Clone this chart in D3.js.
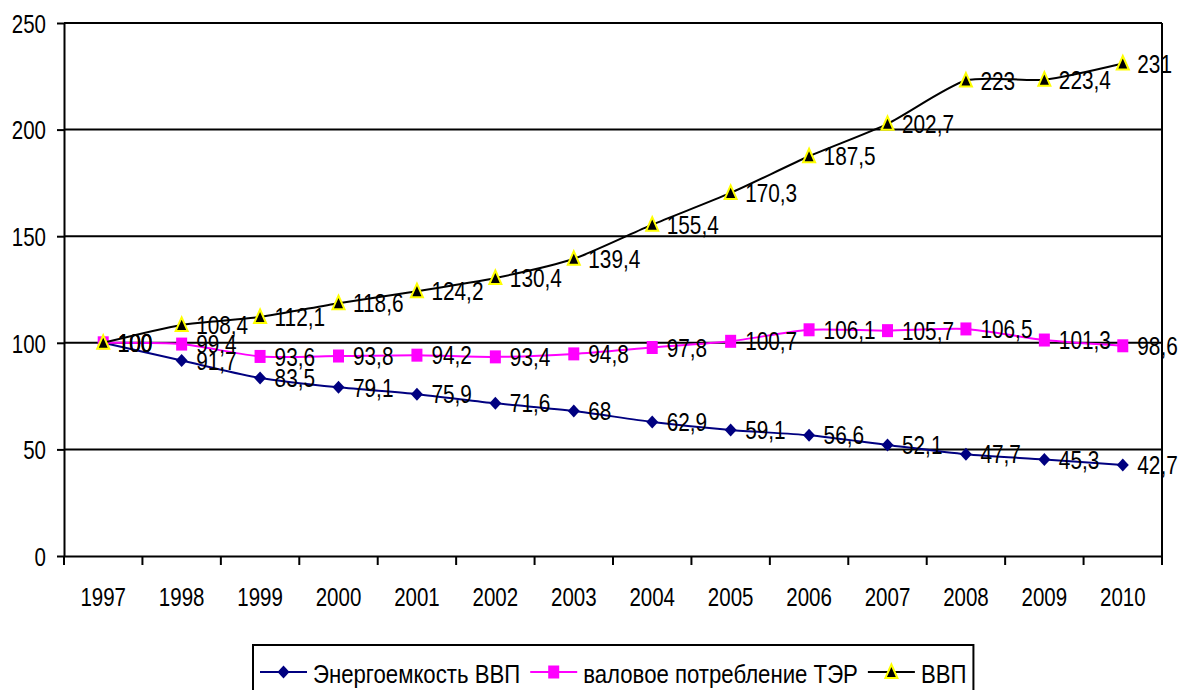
<!DOCTYPE html>
<html>
<head>
<meta charset="utf-8">
<script src="https://cdn.jsdelivr.net/npm/d3@7"></script>
<style>
  html, body { margin: 0; padding: 0; background: #fff; }
  svg { display: block; }
  text { font-family: "Liberation Sans", Arial, sans-serif; fill: #000; }
</style>
</head>
<body>
<svg id="chart" width="1178" height="690"></svg>
<script>
// Years on the category axis
const years = ["1997","1998","1999","2000","2001","2002","2003","2004","2005","2006","2007","2008","2009","2010"];
// Index values, 1997 = 100
const energyIntensity = [100, 91.7, 83.5, 79.1, 75.9, 71.6, 68, 62.9, 59.1, 56.6, 52.1, 47.7, 45.3, 42.7];
const grossConsumption = [100, 99.4, 93.6, 93.8, 94.2, 93.4, 94.8, 97.8, 100.7, 106.1, 105.7, 106.5, 101.3, 98.6];
const gdp = [100, 108.4, 112.1, 118.6, 124.2, 130.4, 139.4, 155.4, 170.3, 187.5, 202.7, 223, 223.4, 231];
const yTicks = [0, 50, 100, 150, 200, 250];
const seriesNames = ["Энергоемкость ВВП", "валовое потребление ТЭР", "ВВП"];

const svg = d3.select("#chart");
const plotLeft = 64, plotRight = 1162, plotTop = 23, plotBottom = 556;
const FS = 20.5;      // axis font size
const SY = 1.25;      // vertical stretch of axis and label lettering

const x = d3.scaleBand().domain(years).range([plotLeft, plotRight]).paddingInner(0).paddingOuter(0);
const y = d3.scaleLinear().domain([0, 250]).range([plotBottom, plotTop]);
const cx = yr => x(yr) + x.bandwidth() / 2;

// Horizontal gridlines
svg.append("g").selectAll("line")
  .data(yTicks.filter(t => t > 0))
  .join("line")
  .attr("x1", plotLeft).attr("x2", plotRight)
  .attr("y1", d => y(d)).attr("y2", d => y(d))
  .attr("stroke", "#000").attr("stroke-width", 2);

// Right border of the plot area
svg.append("line")
  .attr("x1", plotRight).attr("x2", plotRight).attr("y1", plotTop).attr("y2", plotBottom)
  .attr("stroke", "#000").attr("stroke-width", 2);

// Value axis
const yAxis = svg.append("g")
  .attr("transform", `translate(${plotLeft},0)`)
  .call(d3.axisLeft(y).tickValues(yTicks).tickSize(7).tickSizeOuter(0).tickPadding(0));
yAxis.attr("font-family", null).attr("font-size", null);
yAxis.select(".domain").attr("stroke", "#000").attr("stroke-width", 2);
yAxis.selectAll(".tick line").attr("stroke", "#000").attr("stroke-width", 2);
yAxis.selectAll(".tick text")
  .attr("x", null).attr("dy", "0.36em")
  .attr("transform", `translate(-18,0) scale(1,${SY})`)
  .attr("text-anchor", "end")
  .style("font-size", FS + "px");

// Category axis
const xAxis = svg.append("g")
  .attr("transform", `translate(0,${plotBottom})`)
  .call(d3.axisBottom(x).tickSize(0).tickSizeOuter(0));
xAxis.attr("font-family", null).attr("font-size", null);
xAxis.select(".domain").attr("stroke", "#000").attr("stroke-width", 2);
xAxis.selectAll(".tick text")
  .attr("y", null).attr("dy", "0.36em")
  .attr("transform", `translate(0,41) scale(1,${SY})`)
  .style("font-size", FS + "px");
// Tick marks on category boundaries
xAxis.append("g").selectAll("line")
  .data(years.map(d => x(d)).concat([x.range()[1]]))
  .join("line")
  .attr("x1", d => d).attr("x2", d => d)
  .attr("y1", 0).attr("y2", 9)
  .attr("stroke", "#000").attr("stroke-width", 2);

// Marker shapes
function diamond(g, color) {
  g.append("path").attr("d", "M0,-6.5L6,0L0,6.5L-6,0Z").attr("fill", color);
}
function square(g, color) {
  g.append("rect").attr("x", -5.5).attr("y", -6.5).attr("width", 11).attr("height", 13).attr("fill", color);
}
function triangle(g) {
  g.append("path").attr("d", "M0,-7.5L6,6L-6,6Z")
    .attr("fill", "#000").attr("stroke", "#ffff00").attr("stroke-width", 2).attr("stroke-linejoin", "miter");
}

const series = [
  { name: seriesNames[0], values: energyIntensity, color: "#000080", marker: g => diamond(g, "#000080") },
  { name: seriesNames[1], values: grossConsumption, color: "#ff00ff", marker: g => square(g, "#ff00ff") },
  { name: seriesNames[2], values: gdp, color: "#000000", marker: g => triangle(g) }
];

const line = d3.line()
  .x((d, i) => cx(years[i]))
  .y(d => y(d))
  .curve(d3.curveCardinal.tension(0.3));

series.forEach(s => {
  svg.append("path")
    .datum(s.values)
    .attr("d", line)
    .attr("fill", "none")
    .attr("stroke", s.color)
    .attr("stroke-width", 2);
  svg.append("g").selectAll("g")
    .data(s.values)
    .join("g")
    .attr("transform", (d, i) => `translate(${cx(years[i])},${y(d)})`)
    .each(function () { s.marker(d3.select(this)); });
});

// Value labels to the right of each point
const fmt = v => String(v).replace(".", ",");
series.forEach(s => {
  svg.append("g").selectAll("text")
    .data(s.values)
    .join("text")
    .attr("dy", "0.36em")
    .attr("transform", (d, i) => `translate(${cx(years[i]) + 14.5},${y(d)}) scale(1,1.22)`)
    .style("font-size", "20.8px")
    .text(d => fmt(d));
});

// Legend
const legend = svg.append("g");
const legTop = 645, legLeft = 253, legMid = 672;
const box = legend.append("rect")
  .attr("x", legLeft).attr("y", legTop).attr("height", 60)
  .attr("fill", "#fff").attr("stroke", "#000").attr("stroke-width", 2);
let lx = legLeft + 7;
series.forEach((s, i) => {
  const g = legend.append("g");
  g.append("line")
    .attr("x1", lx).attr("x2", lx + 47).attr("y1", legMid).attr("y2", legMid)
    .attr("stroke", s.color).attr("stroke-width", 2);
  const m = g.append("g").attr("transform", `translate(${lx + 23.5},${legMid})`);
  s.marker(m);
  const t = g.append("text")
    .attr("dy", "0.36em")
    .attr("transform", `translate(${lx + 53},${legMid + 2}) scale(1,1.15)`)
    .style("font-size", "22.2px")
    .text(s.name);
  lx += 53 + t.node().getComputedTextLength() + (i < series.length - 1 ? 10 : 0);
});
box.attr("width", lx - legLeft + 7);
</script>
</body>
</html>
